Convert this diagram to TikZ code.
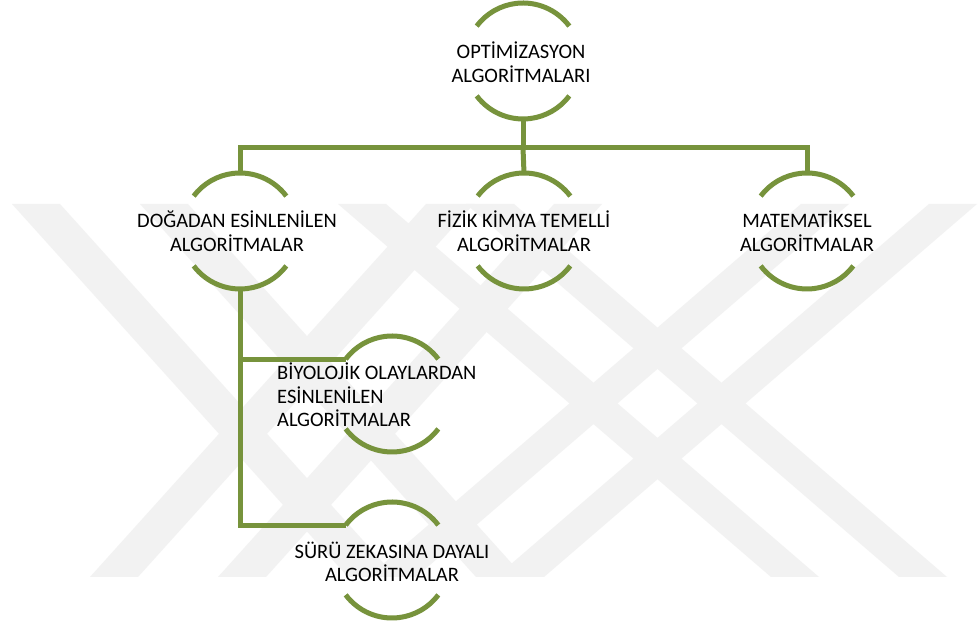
\documentclass[tikz,border=0pt]{standalone}
\usepackage{fontspec}
\setmainfont{Carlito}
\usetikzlibrary{calc}
\definecolor{olive}{HTML}{77933C}
\definecolor{markgray}{HTML}{F2F2F2}
\tikzset{
  ring/.style={circle, minimum size=116pt, inner sep=0pt, outer sep=0pt, draw=none},
  arcline/.style={draw=olive, line width=5pt},
  link/.style={draw=olive, line width=5pt},
  txt/.style={inner sep=0pt, align=center, font=\fontsize{20.5}{23.5}\selectfont},
  stripe/.style={fill=markgray, draw=none}
}
% two open arcs above and below a ring node
\newcommand\ringarcs[1]{%
  \draw[arcline] (#1.37) arc[start angle=37, end angle=143, radius=58pt];
  \draw[arcline] (#1.217) arc[start angle=217, end angle=323, radius=58pt];
}
% one diagonal stripe of the background emblem: top x, bottom x (centre line)
\newcommand\embstripe[2]{%
  \fill[stripe] ({#1-24},424) -- ({#1+24},424) -- ({#2+24},51) -- ({#2-24},51) -- cycle;
}
\begin{document}
\begin{tikzpicture}[x=1pt,y=1pt]
\useasboundingbox (0,0) rectangle (980,628);
\fill[white] (0,0) rectangle (980,628);

% faint background emblem made of paired diagonal stripes
\embstripe{36}{372}
\embstripe{164}{500}
\embstripe{450}{114}
\embstripe{578}{242}
\embstripe{362}{795}
\embstripe{490}{923}
\embstripe{825}{392}
\embstripe{953}{520}

% ring nodes
\node[ring] (top)   at (523,567) {};
\node[ring] (doga)  at (240,397) {};
\node[ring] (fizik) at (524,397) {};
\node[ring] (mate)  at (807,397) {};
\node[ring] (bio)   at (392,234) {};
\node[ring] (suru)  at (392,68) {};

\ringarcs{top}
\ringarcs{doga}
\ringarcs{fizik}
\ringarcs{mate}
\ringarcs{bio}
\ringarcs{suru}

% connectors
\coordinate (bus) at (523,480);
\draw[link] (top.south) -- (bus);
\draw[link] (doga.north) |- (bus) -| (mate.north);
\draw[link] (bus) -- (fizik.north);
\draw[link] (doga.south) |- (suru.143);
\draw[link] (doga.south |- bio.143) -- (bio.143);

% labels
\node[txt] (top-t)   at (521,566) {OPTİMİZASYON\\ALGORİTMALARI};
\node[txt] (doga-t)  at (237,397) {DOĞADAN ESİNLENİLEN\\ALGORİTMALAR};
\node[txt] (fizik-t) at (524,397) {FİZİK KİMYA TEMELLİ\\ALGORİTMALAR};
\node[txt] (mate-t)  at (807,397) {MATEMATİKSEL\\ALGORİTMALAR};
\node[txt, align=left, anchor=west] (bio-t) at (277,233) {BİYOLOJİK OLAYLARDAN\\ESİNLENİLEN\\ALGORİTMALAR};
\node[txt] (suru-t)  at (392,66) {SÜRÜ ZEKASINA DAYALI\\ALGORİTMALAR};
\end{tikzpicture}
\end{document}
